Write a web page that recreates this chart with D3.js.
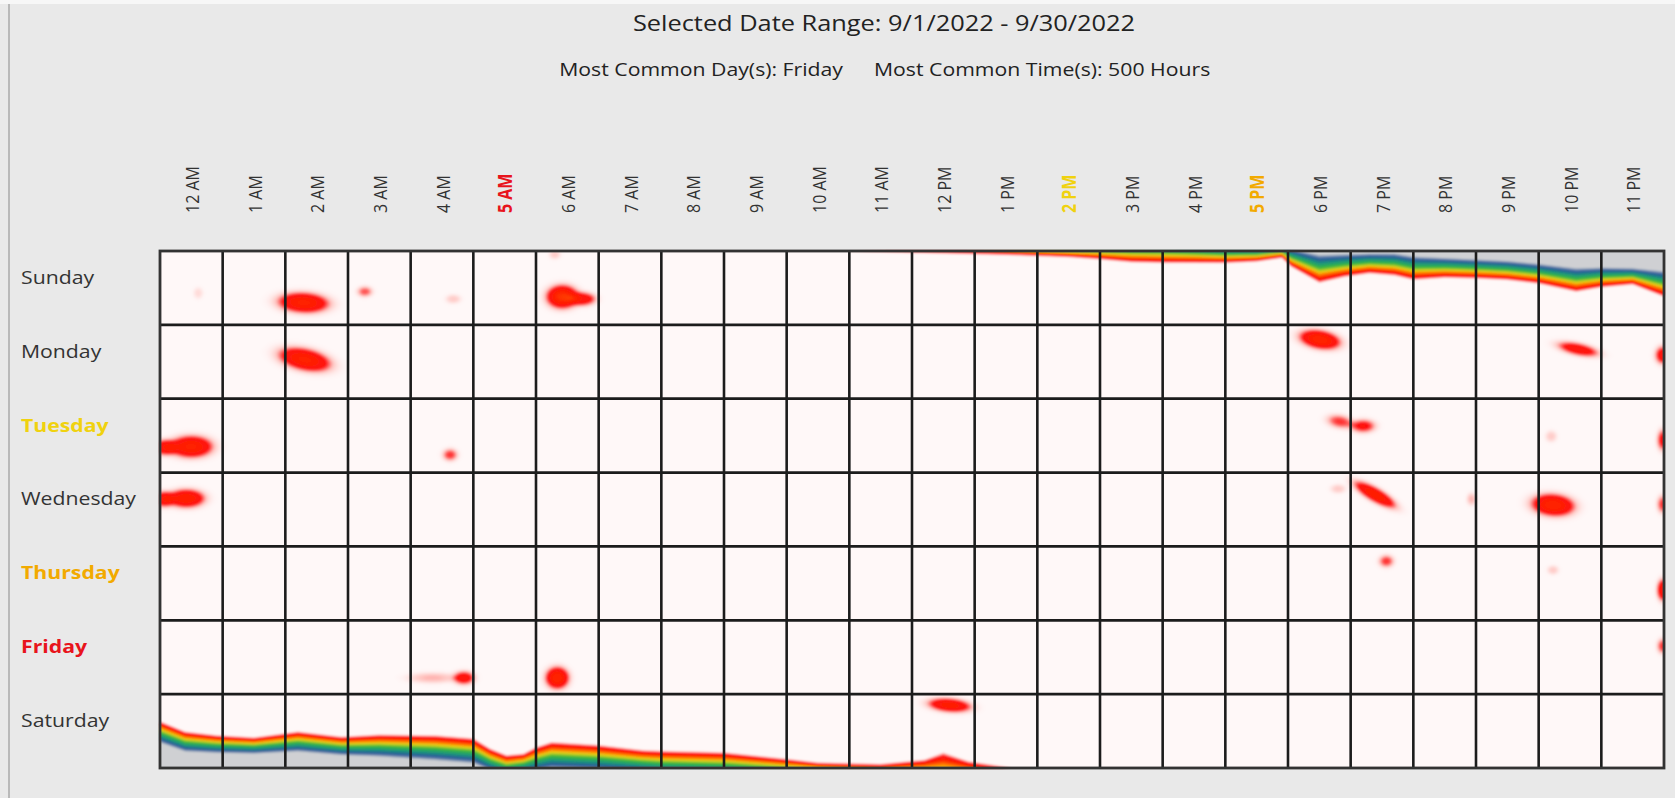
<!DOCTYPE html>
<html>
<head>
<meta charset="utf-8">
<script src="https://cdn.jsdelivr.net/npm/d3@7"></script>
<style>
  body { margin: 0; background: #e9e9e9; overflow: hidden; }
  text { font-family: "Open Sans", "Noto Sans", sans-serif; }
</style>
</head>
<body>
<div id="mycanvas"></div>
<script>
const width = 1675;
const height = 798;

// ---- data ----
const days = ["Sunday", "Monday", "Tuesday", "Wednesday", "Thursday", "Friday", "Saturday"];
const hours = ["12 AM", "1 AM", "2 AM", "3 AM", "4 AM", "5 AM", "6 AM", "7 AM", "8 AM", "9 AM", "10 AM", "11 AM",
  "12 PM", "1 PM", "2 PM", "3 PM", "4 PM", "5 PM", "6 PM", "7 PM", "8 PM", "9 PM", "10 PM", "11 PM"];

const dateRange = ["9/1/2022", "9/30/2022"];
const mostCommonDay = "Friday";
const mostCommonTime = "500 Hours";

// 1 = most common, 2 = second, 3 = third
const dayRank = { Friday: 1, Thursday: 2, Tuesday: 3 };
const hourRank = { "5 AM": 1, "5 PM": 2, "2 PM": 3 };

// hot spots: [hour position, day position, spread (hours), spread (days), tilt deg, intensity]
const hotspots = [
  [2.29, 0.70, 0.26, 0.088, 3, 0.19],
  [3.27, 0.55, 0.08, 0.047, 0, 0.07],
  [4.68, 0.65, 0.08, 0.04, 0, 0.03],
  [0.61, 0.57, 0.05, 0.05, 0, 0.02],
  [6.42, 0.62, 0.16, 0.10, 0, 0.22],
  [6.74, 0.65, 0.14, 0.06, 0, 0.13],
  [6.30, 0.05, 0.06, 0.04, 0, 0.03],
  [2.31, 1.47, 0.27, 0.095, 12, 0.19],
  [18.51, 1.20, 0.21, 0.08, 10, 0.2],
  [22.63, 1.33, 0.22, 0.055, 12, 0.13],
  [23.98, 1.41, 0.08, 0.08, 0, 0.12],
  [0.50, 2.65, 0.22, 0.095, 0, 0.19],
  [0.08, 2.66, 0.13, 0.068, 0, 0.14],
  [4.63, 2.76, 0.08, 0.055, 0, 0.08],
  [18.83, 2.31, 0.14, 0.06, 10, 0.08],
  [19.20, 2.37, 0.13, 0.06, 0, 0.10],
  [22.20, 2.51, 0.06, 0.05, 0, 0.03],
  [23.98, 2.56, 0.06, 0.095, 0, 0.10],
  [0.42, 3.35, 0.19, 0.08, 0, 0.18],
  [0.06, 3.36, 0.11, 0.068, 0, 0.14],
  [19.39, 3.30, 0.24, 0.06, 30, 0.18],
  [18.80, 3.22, 0.08, 0.04, 0, 0.03],
  [20.93, 3.36, 0.05, 0.055, 0, 0.04],
  [22.23, 3.44, 0.22, 0.095, 5, 0.20],
  [23.98, 3.43, 0.06, 0.08, 0, 0.08],
  [19.57, 4.20, 0.08, 0.055, 0, 0.08],
  [22.23, 4.32, 0.06, 0.04, 0, 0.03],
  [23.98, 4.59, 0.06, 0.095, 0, 0.15],
  [4.85, 5.78, 0.11, 0.06, 0, 0.12],
  [4.35, 5.78, 0.26, 0.047, 0, 0.04],
  [6.34, 5.78, 0.12, 0.095, 0, 0.2],
  [23.98, 5.35, 0.06, 0.068, 0, 0.08],
  [12.60, 6.15, 0.22, 0.06, 5, 0.17]
];

// dense band along the top of Sunday: [hour, edge depth (row), saturated depth (row)]
const sundayBand = [
  [0, -0.05, -0.4], [10.6, -0.02, -0.3], [11.0, 0.01, -0.2], [11.5, 0.02, -0.16], [12.5, 0.04, -0.16],
  [13.5, 0.06, -0.12], [14.5, 0.09, -0.09], [15.0, 0.12, -0.1], [15.5, 0.16, -0.11], [16.0, 0.17, -0.11],
  [16.5, 0.17, -0.09], [17.0, 0.17, -0.06], [17.5, 0.15, -0.05], [17.9, 0.10, -0.07], [18.05, 0.22, -0.03],
  [18.5, 0.44, 0.05], [18.9, 0.36, 0.04], [19.3, 0.31, 0.03], [19.7, 0.34, 0.03], [20.0, 0.40, 0.07],
  [20.5, 0.37, 0.09], [21.0, 0.38, 0.11], [21.5, 0.40, 0.13], [22.0, 0.45, 0.17], [22.6, 0.56, 0.23],
  [23.0, 0.50, 0.22], [23.5, 0.46, 0.23], [24.0, 0.63, 0.27]
];

// dense band along the bottom of Saturday
const saturdayBand = [
  [0.0, 0.64, 0.34], [0.4, 0.50, 0.22], [0.9, 0.45, 0.20], [1.5, 0.42, 0.19], [2.2, 0.50, 0.22],
  [2.9, 0.43, 0.17], [3.5, 0.46, 0.15], [4.4, 0.45, 0.10], [5.0, 0.41, 0.06], [5.27, 0.27, -0.04],
  [5.53, 0.18, -0.1], [5.8, 0.20, -0.06], [6.0, 0.29, -0.04], [6.25, 0.36, -0.01], [7.0, 0.32, -0.03],
  [7.7, 0.25, -0.06], [8.0, 0.24, -0.08], [9.0, 0.22, -0.1], [10.0, 0.13, -0.12], [10.5, 0.08, -0.12],
  [11.5, 0.06, -0.14], [12.2, 0.12, -0.2], [12.5, 0.22, -0.35], [12.9, 0.10, -0.25], [13.5, 0.02, -0.2],
  [14.0, -0.05, -0.3], [24.0, -0.05, -0.3]
];

// ---- style ----
const rankColor = { 1: "#e8141c", 2: "#f2aa00", 3: "#f0d20f" };
const colorStops = [0, 0.035, 0.09, 0.2, 0.3, 0.4, 0.53, 0.68, 0.84, 0.94, 1];
const colorRange = ["#fff8f8", "#ffc4c0", "#ff1010", "#ff2200", "#ff7d00", "#e8d416", "#3cb83a",
  "#1c9a78", "#26599a", "#7890b0", "#cfd0d3"];
const textStretch = 1.18; // the labels of the original are wider than they are tall

const gridLeft = 160, gridRight = 1664, gridTop = 251, gridBottom = 768;

const svg = d3
  .select("#mycanvas")
  .append("svg")
  .attr("width", width)
  .attr("height", height);

svg.append("rect").attr("width", width).attr("height", height).attr("fill", "#e9e9e9");
svg.append("rect").attr("width", width).attr("height", 4).attr("fill", "#f7f7f7");
svg.append("line")
  .attr("x1", 9).attr("x2", 9).attr("y1", 4).attr("y2", height)
  .attr("stroke", "#a9a9a9").attr("stroke-width", 1.5);

const x = d3.scaleBand().domain(hours).range([gridLeft, gridRight]);
const y = d3.scaleBand().domain(days).range([gridTop, gridBottom]);

// continuous scales, relative to the grid
const W = gridRight - gridLeft;
const H = gridBottom - gridTop;
const hx = d3.scaleLinear().domain([0, hours.length]).range([0, W]);
const dy = d3.scaleLinear().domain([0, days.length]).range([0, H]);
const rowH = y.bandwidth();

const field = new Float32Array(W * H);

const addBand = (points, fromTop) => {
  const hs = points.map((p) => p[0]);
  const edge = d3.scaleLinear().domain(hs).range(points.map((p) => p[1])).clamp(true);
  const core = d3.scaleLinear().domain(hs).range(points.map((p) => p[2])).clamp(true);
  for (let i = 0; i < W; i++) {
    const h = hx.invert(i + 0.5);
    const e = edge(h) * rowH;
    const c = core(h) * rowH;
    if (e <= 0) continue;
    const n = Math.min(H, Math.ceil(e) + 1);
    for (let k = 0; k < n; k++) {
      const j = fromTop ? k : H - 1 - k;
      const dist = k + 0.5;
      const v = (e - dist) / (e - c);
      if (v > 0) field[j * W + i] += Math.min(v, 1.2);
    }
  }
};

addBand(sundayBand, true);
addBand(saturdayBand, false);

hotspots.forEach(([h, d, sh, sd, tilt, amp]) => {
  const cx = hx(h), cy = dy(d);
  const sx = hx(sh), sy = dy(sd);
  const a = (tilt * Math.PI) / 180;
  const cos = Math.cos(a), sin = Math.sin(a);
  const R = 2.6 * Math.max(sx, sy);
  const i0 = Math.max(0, Math.floor(cx - R)), i1 = Math.min(W - 1, Math.ceil(cx + R));
  const j0 = Math.max(0, Math.floor(cy - R)), j1 = Math.min(H - 1, Math.ceil(cy + R));
  for (let j = j0; j <= j1; j++) {
    for (let i = i0; i <= i1; i++) {
      const ddx = i + 0.5 - cx, ddy = j + 0.5 - cy;
      const u = (ddx * cos + ddy * sin) / sx;
      const w = (-ddx * sin + ddy * cos) / sy;
      const r2 = u * u + w * w;
      field[j * W + i] += amp * Math.exp(-Math.pow(r2 / 2, 1.4));
    }
  }
});

const color = d3.scaleLinear().domain(colorStops).range(colorRange).clamp(true);
const lut = d3.range(512).map((k) => d3.rgb(color(k / 511)));

const canvas = document.createElement("canvas");
canvas.width = W;
canvas.height = H;
const ctx = canvas.getContext("2d");
const img = ctx.createImageData(W, H);
for (let p = 0; p < W * H; p++) {
  const c = lut[Math.max(0, Math.min(511, Math.round(field[p] * 511)))];
  img.data[p * 4] = c.r;
  img.data[p * 4 + 1] = c.g;
  img.data[p * 4 + 2] = c.b;
  img.data[p * 4 + 3] = 255;
}
ctx.putImageData(img, 0, 0);

const defs = svg.append("defs");
defs.append("filter").attr("id", "soft")
  .append("feGaussianBlur").attr("stdDeviation", 1.3);

svg.append("image")
  .attr("x", gridLeft)
  .attr("y", gridTop)
  .attr("width", W)
  .attr("height", H)
  .attr("preserveAspectRatio", "none")
  .attr("filter", "url(#soft)")
  .attr("href", canvas.toDataURL());

// grid lines
svg.append("g")
  .selectAll("line")
  .data(hours.slice(1))
  .join("line")
  .attr("x1", (d) => x(d)).attr("x2", (d) => x(d))
  .attr("y1", gridTop).attr("y2", gridBottom)
  .attr("stroke", "#1c1c1c").attr("stroke-width", 2.6);

svg.append("g")
  .selectAll("line")
  .data(days.slice(1))
  .join("line")
  .attr("x1", gridLeft).attr("x2", gridRight)
  .attr("y1", (d) => y(d)).attr("y2", (d) => y(d))
  .attr("stroke", "#1c1c1c").attr("stroke-width", 2.8);

svg.append("rect")
  .attr("x", gridLeft).attr("y", gridTop)
  .attr("width", W).attr("height", H)
  .attr("fill", "none")
  .attr("stroke", "#333").attr("stroke-width", 2.8);

// hour labels
svg.append("g")
  .selectAll("text")
  .data(hours)
  .join("text")
  .attr("transform", (d) => `translate(${x(d) + x.bandwidth() / 2} 213) rotate(-90) scale(1 ${textStretch})`)
  .attr("dominant-baseline", "central")
  .attr("font-size", 16)
  .attr("font-weight", (d) => (hourRank[d] ? 700 : 400))
  .attr("fill", (d) => (hourRank[d] ? rankColor[hourRank[d]] : "#333"))
  .text((d) => d);

// day labels
svg.append("g")
  .selectAll("text")
  .data(days)
  .join("text")
  .attr("transform", (d) => `translate(21 ${y(d) + 26}) scale(${textStretch} 1)`)
  .attr("dominant-baseline", "central")
  .attr("font-size", 18)
  .attr("font-weight", (d) => (dayRank[d] ? 700 : 400))
  .attr("fill", (d) => (dayRank[d] ? rankColor[dayRank[d]] : "#333"))
  .text((d) => d);

// titles
svg.append("text")
  .attr("transform", `translate(884 31) scale(${textStretch} 1)`)
  .attr("text-anchor", "middle")
  .attr("font-size", 21.5)
  .attr("fill", "#222")
  .text(`Selected Date Range: ${dateRange[0]} - ${dateRange[1]}`);

svg.append("text")
  .attr("transform", `translate(843 76) scale(${textStretch} 1)`)
  .attr("text-anchor", "end")
  .attr("font-size", 18)
  .attr("fill", "#222")
  .text(`Most Common Day(s): ${mostCommonDay}`);

svg.append("text")
  .attr("transform", `translate(874 76) scale(${textStretch} 1)`)
  .attr("text-anchor", "start")
  .attr("font-size", 18)
  .attr("fill", "#222")
  .text(`Most Common Time(s): ${mostCommonTime}`);
</script>
</body>
</html>
